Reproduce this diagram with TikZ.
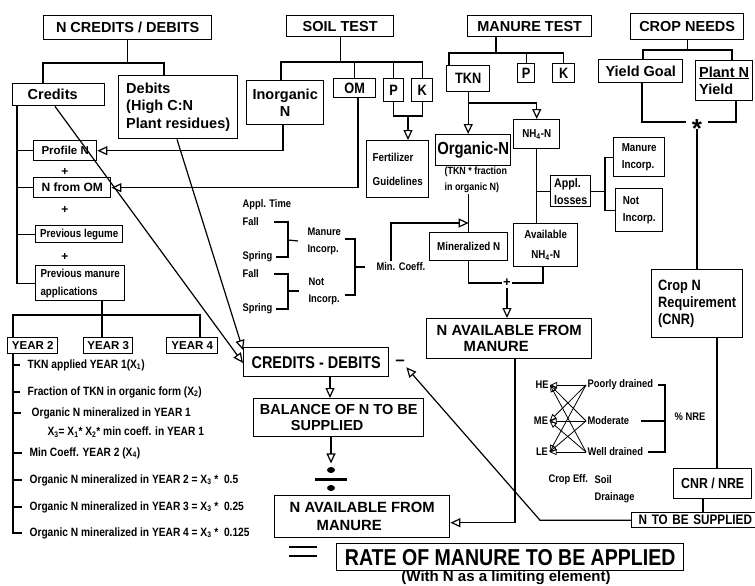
\documentclass[tikz,border=0pt]{standalone}
\usepackage{fontspec}
\setmainfont{Liberation Sans}
\newfontfamily\narrowsans{Liberation Sans}[FakeStretch=0.85]
\usetikzlibrary{positioning,arrows.meta}

\begin{document}
\begin{tikzpicture}[x=1pt, y=-1pt, line width=1.2pt,
  box/.style={draw, line width=1.4pt, anchor=north west, align=center, inner sep=1pt},
  hd/.style={font=\bfseries\fontsize{14.5}{17.5}\selectfont},
  mb/.style={font=\narrowsans\bfseries\fontsize{15}{17}\selectfont},
  sm/.style={font=\narrowsans\bfseries\fontsize{11.5}{17}\selectfont},
  tx/.style={font=\narrowsans\bfseries\fontsize{11}{17}\selectfont, inner sep=1pt},
  listitem/.style={anchor=west, inner sep=1pt, font=\narrowsans\bfseries\fontsize{12}{14}\selectfont},
  plussign/.style={font=\bfseries\fontsize{12}{12}\selectfont, inner sep=0pt},
  oarr/.style={-{Triangle[open,length=10pt,width=9pt]}},
  sarr/.style={-{Triangle[open,length=7pt,width=6pt]}, line width=0.8pt}]
\fill[white] (0,0) rectangle (755,586);
\useasboundingbox (0,0) rectangle (755,586);

% top row
\node[box,hd,minimum width=168pt,minimum height=24pt] (ncd) at (43,15) {N CREDITS / DEBITS};
\node[box,hd,minimum width=107pt,minimum height=21pt] (soil) at (286,15) {SOIL TEST};
\node[box,hd,minimum width=124pt,minimum height=21pt] (mtest) at (467,15) {MANURE TEST};
\node[box,hd,minimum width=113pt,minimum height=26pt] (cneeds) at (630,13) {CROP NEEDS};

% credits / debits
\node[box,hd,text width=62pt,inner xsep=15pt,align=left,minimum height=22pt] (cred) at (12,83) {Credits};
\node[box,hd,minimum width=119pt,minimum height=63pt,align=left] (deb) at (118,75) {Debits\\(High C:N\\Plant residues)};
\node[box,font=\bfseries\fontsize{11.5}{14}\selectfont,minimum width=63pt,minimum height=20pt] (profn) at (33,140) {Profile N};
\node[box,font=\bfseries\fontsize{12}{14}\selectfont,minimum width=77pt,minimum height=20pt] (nfom) at (33,177) {N from OM};
\node[box,sm,minimum width=87pt,minimum height=17pt] (prevleg) at (35,225) {Previous legume};
\node[box,sm,minimum width=89pt,minimum height=35pt,align=left] (prevman) at (35,265) {Previous manure\\[1pt]applications};
\node[plussign] (pl1) at (65,172) {+};
\node[plussign] (pl2) at (65,210) {+};
\node[plussign] (pl3) at (65,257) {+};
\node[box,font=\bfseries\fontsize{11.5}{14}\selectfont,minimum width=50pt,minimum height=16pt] (y2) at (7,337) {YEAR 2};
\node[box,font=\bfseries\fontsize{11.5}{14}\selectfont,minimum width=49pt,minimum height=16pt] (y3) at (83,337) {YEAR 3};
\node[box,font=\bfseries\fontsize{11.5}{14}\selectfont,minimum width=51pt,minimum height=16pt] (y4) at (166,337) {YEAR 4};

\node[listitem] (i1) at (26,365) {TKN applied YEAR 1(X\textsubscript{1})};
\node[listitem] (i2) at (26,392) {Fraction of TKN in organic form (X\textsubscript{2})};
\node[listitem] (i3) at (30,413) {Organic N mineralized in YEAR 1};
\node[listitem] (i3b) at (46,432) {X\textsubscript{3}= X\textsubscript{1}* X\textsubscript{2}* min coeff. in YEAR 1};
\node[listitem] (i4) at (28,453) {Min Coeff. YEAR 2 (X\textsubscript{4})};
\node[listitem] (i5) at (28,480) {Organic N mineralized in YEAR 2 = X\textsubscript{3} *\ \ 0.5};
\node[listitem] (i6) at (28,507) {Organic N mineralized in YEAR 3 = X\textsubscript{3} *\ \ 0.25};
\node[listitem] (i7) at (28,533) {Organic N mineralized in YEAR 4 = X\textsubscript{3} *\ \ 0.125};

% soil test
\node[box,hd,minimum width=77pt,minimum height=44pt] (inorg) at (246,80) {Inorganic\\N};
\node[box,mb,minimum width=42pt,minimum height=19pt] (om) at (333,78) {OM};
\node[box,mb,minimum width=20pt,minimum height=23pt] (sp) at (383,78) {P};
\node[box,mb,minimum width=21pt,minimum height=23pt] (sk) at (411,78) {K};
\node[box,sm,minimum width=62pt,minimum height=57pt,align=left] (fert) at (366,140) {Fertilizer\\[7pt]Guidelines};

% manure test
\node[box,mb,minimum width=43pt,minimum height=26pt] (tkn) at (446,65) {TKN};
\node[box,mb,minimum width=17pt,minimum height=19pt] (mp) at (517,63) {P};
\node[box,mb,minimum width=22pt,minimum height=19pt] (mk) at (552,63) {K};
\node[box,font=\narrowsans\bfseries\fontsize{17.5}{20}\selectfont,minimum width=75pt,minimum height=31pt] (orgn) at (435,134) {Organic-N};
\node[anchor=north west,align=left,inner sep=1pt,font=\narrowsans\bfseries\fontsize{10.5}{16}\selectfont] (orgnote) at (443,165) {(TKN * fraction\\in organic N)};
\node[box,sm,minimum width=46pt,minimum height=29pt] (nh4) at (513,119) {NH\textsubscript{4}-N};
\node[box,font=\narrowsans\bfseries\fontsize{12.5}{17}\selectfont,minimum width=40pt,minimum height=31pt,align=left] (losses) at (550,175) {Appl.\\losses};
\node[box,sm,minimum width=51pt,minimum height=39pt,align=left] (minc) at (613,137) {Manure\\Incorp.};
\node[box,sm,minimum width=47pt,minimum height=43pt,align=left] (notinc) at (615,188) {Not\\Incorp.};
\node[box,sm,minimum width=78pt,minimum height=28pt] (minn) at (429,232) {Mineralized N};
\node[box,sm,minimum width=64pt,minimum height=43pt] (avnh4) at (513,223) {Available\\[3pt]NH\textsubscript{4}-N};
\node[font=\bfseries\fontsize{13}{13}\selectfont, inner sep=1pt] (pl4) at (507,283) {+};
\node[box,font=\bfseries\fontsize{14.8}{16}\selectfont,minimum width=165pt,minimum height=40pt,align=left] (navu) at (426,318) {N AVAILABLE FROM\\\hspace{27pt}MANURE};

% application time
\node[tx,anchor=west] (apt) at (241,205) {Appl. Time};
\node[tx,anchor=west] (fall1) at (241,222) {Fall};
\node[tx,anchor=west] (spr1) at (241,257) {Spring};
\node[tx,anchor=west] (fall2) at (241,274) {Fall};
\node[tx,anchor=west] (spr2) at (241,309) {Spring};
\node[tx,anchor=west,align=left] (mincorp) at (306,241) {Manure\\Incorp.};
\node[tx,anchor=west,align=left] (nincorp) at (307,291) {Not\\Incorp.};
\node[tx,anchor=west] (mcoef) at (375,267) {Min. Coeff.};

% crop needs
\node[box,hd,minimum width=84pt,minimum height=23pt] (ygoal) at (598,59) {Yield Goal};
\node[box,hd,minimum width=57pt,minimum height=40pt,align=left] (pny) at (695,60) {\underline{Plant N}\\Yield};
\node[minimum width=20pt,minimum height=12pt,inner sep=0pt,font=\bfseries\fontsize{26}{26}\selectfont] (star) at (697,122) {\smash{\raisebox{-15pt}{*}}};
\node[box,mb,minimum width=91pt,minimum height=68pt,align=left] (cnr) at (651,269) {Crop N\\Requirement\\(CNR)};
\node[box,font=\narrowsans\bfseries\fontsize{14.5}{17}\selectfont,minimum width=78pt,minimum height=30pt] (cnrnre) at (673,468) {CNR / NRE};
\node[box,font=\narrowsans\bfseries\fontsize{13.8}{17}\selectfont,text width=125pt,inner xsep=7pt,inner ysep=0pt,minimum height=15pt,align=left] (ntbs) at (631,512) {N TO BE SUPPLIED};

% drainage
\node[tx] (he) at (542,385) {HE};
\node[tx] (me) at (541,421) {ME};
\node[tx] (le) at (542,452) {LE};
\node[tx,anchor=west] (poor) at (586,385) {Poorly drained};
\node[tx,anchor=west] (mod) at (586,421) {Moderate};
\node[tx,anchor=west] (well) at (586,452) {Well drained};
\node[tx,anchor=west] (nre) at (673,417) {\% NRE};
\node[tx,anchor=west] (ceff) at (547,480) {Crop Eff.};
\node[tx,anchor=west,align=left] (sdrain) at (593,489) {Soil\\Drainage};

% balance
\node[box,font=\narrowsans\bfseries\fontsize{17}{20}\selectfont,minimum width=145pt,minimum height=29pt] (cd) at (243,347) {CREDITS - DEBITS};
\node[font=\bfseries\fontsize{17}{17}\selectfont,inner sep=1pt] (minus) at (400,363) {--};
\node[box,hd,minimum width=170pt,minimum height=38pt,align=left] (bal) at (253,398) {BALANCE OF N TO BE\\[-2pt]\hspace{31pt}SUPPLIED};
\node[minimum width=31pt,minimum height=30pt,inner sep=0pt] (divsym) at (331,479) {};
\node[box,font=\bfseries\fontsize{14.8}{18}\selectfont,minimum width=175pt,minimum height=42pt,align=left] (navl) at (274,495) {N AVAILABLE FROM\\\hspace{27pt}MANURE};
\node[minimum width=27pt,minimum height=8pt,inner sep=0pt] (eqsym) at (303,551.5) {};
\node[box,font=\narrowsans\bfseries\fontsize{23}{25}\selectfont,minimum width=347pt,minimum height=27pt] (rate) at (336,543) {RATE OF MANURE TO BE APPLIED};
\node[font=\bfseries\fontsize{15}{17}\selectfont,inner sep=0pt] (with) at (506,578) {(With N as a limiting element)};

% credits side connectors
\draw (ncd.south) -- (ncd.south |- 0,63);
\draw (cred.north -| 43,0) -- (43,63) -- (164,63) -- (deb.north -| 164,0);
\draw (cred.south -| 17,0) |- (prevman.west);
\foreach \n in {profn,nfom,prevleg} \draw (\n.west) -- (\n.west -| 17,0);
\draw (prevman.south -| 102,0) -- (y3.north -| 102,0);
\draw (y2.north -| 13,0) -- (13,315) -- (200,315) -- (y4.north -| 200,0);
\draw (y2.south -| 13,0) |- ([xshift=-6pt]i7.west);
\foreach \n in {i1,i2,i4,i5,i6} \draw ([xshift=-6pt]\n.west) -- (\n.west -| 13,0);
\draw ([xshift=-9pt]i3.west) -- (i3.west -| 13,0);

% soil test connectors
\draw (soil.south) -- (soil.south |- 0,62);
\draw (inorg.north -| 281,0) |- (sk.north |- 0,62) -- (sk.north);
\draw (om.north) -- (om.north |- 0,62);
\draw (sp.north) -- (sp.north |- 0,62);
\draw (sp.south) -- (sp.south |- 0,116) -| (sk.south);
\coordinate (pkjoin) at (408,116);
\draw[oarr] (pkjoin) -- (fert.north -| pkjoin);
\draw[oarr] (inorg.south -| 283,0) |- (profn.east);
\draw[oarr] (om.south -| 358,0) |- (nfom.east);

% manure test connectors
\draw (mtest.south -| 496,0) -- (496,53);
\draw (tkn.north -| 449,0) |- (mk.north |- 0,53) -- (mk.north);
\draw (mp.north) -- (mp.north |- 0,53);
\draw[oarr] (tkn.south) -- (orgn.north -| tkn.south);
\draw[oarr] (tkn.south |- 0,103) -| (nh4.north);
\draw (nh4.south) -- (avnh4.north -| nh4.south);
\draw (losses.west) -- (losses.west -| nh4.south);
\draw (losses.east) -- (losses.east -| 605,0);
\draw (minc.west) -- (minc.west -| 605,0) |- (notinc.west);
\draw (orgnote.south -| minn.north) -- (minn.north);
\coordinate (mjoin) at (minn.north |- 0,223);
\draw[oarr] (mcoef.north -| 391,0) |- (mjoin);
\draw (minn.south) |- (pl4.west);
\draw (avnh4.south -| 543,0) |- (pl4.east);
\draw[oarr] (pl4.south) -- (navu.north -| pl4.south);
\draw[oarr] (navu.south -| 515,0) |- ([yshift=-6pt]navl.east);

% application time brackets
\draw (fall1 -| 274,0) -| (288,240) |- (spr1 -| 276,0);
\draw (288,240) -- ([xshift=-8pt]mincorp.west);
\draw (fall2 -| 274,0) -| (288,291) |- (spr2 -| 276,0);
\draw (288,291) -- ([xshift=-8pt]nincorp.west);
\draw (345,239) -| (355,267) |- (345,295);
\draw (355,267) -- ([xshift=-10pt]mcoef.west);

% crop needs connectors
\draw (cneeds.south) -- (cneeds.south |- 0,50);
\draw (ygoal.north -| 643,0) -- (643,50) -- (732,50) -- (pny.north -| 732,0);
\draw (ygoal.south -| 642,0) |- (star.west);
\draw (pny.south -| 736,0) |- (star.east);
\draw (star.south) -- (cnr.north -| star.south);
\draw (cnr.south -| 717,0) -- (cnrnre.north -| 717,0);
\draw (cnrnre.south -| 703,0) -- (ntbs.north -| 703,0);
\draw[oarr] (ntbs.west) -- ++(-91,0) -- (minus.south east);

% drainage arrows and bracket
\foreach \s in {poor,mod,well}
  \foreach \t in {he,me,le}
    \draw[sarr] (\s.west) -- (\t.east);
\draw ([xshift=3pt]poor.east) -| (665,421) |- ([xshift=3pt]well.east);
\draw ([xshift=10pt]mod.east) -- (665,421);

% balance connectors
\draw[oarr] (deb.south -| 177,0) -- ([yshift=-3pt]cd.north west);
\draw[oarr] (cred.south -| 55,0) -- ([yshift=-16pt]cd.north west);
\draw[oarr] (cd.south -| 330,0) -- (bal.north -| 330,0);
\draw[oarr] (bal.south -| divsym) -- (divsym.north);
\draw[line width=3pt] (divsym.west) -- (divsym.east);
\fill (divsym.center) ++(0,-9) ellipse (4pt and 3pt);
\fill (divsym.center) ++(0,9) ellipse (4pt and 3pt);
\draw[line width=2.5pt] (eqsym.north west) -- (eqsym.north east) (eqsym.south west) -- (eqsym.south east);
\end{tikzpicture}
\end{document}
